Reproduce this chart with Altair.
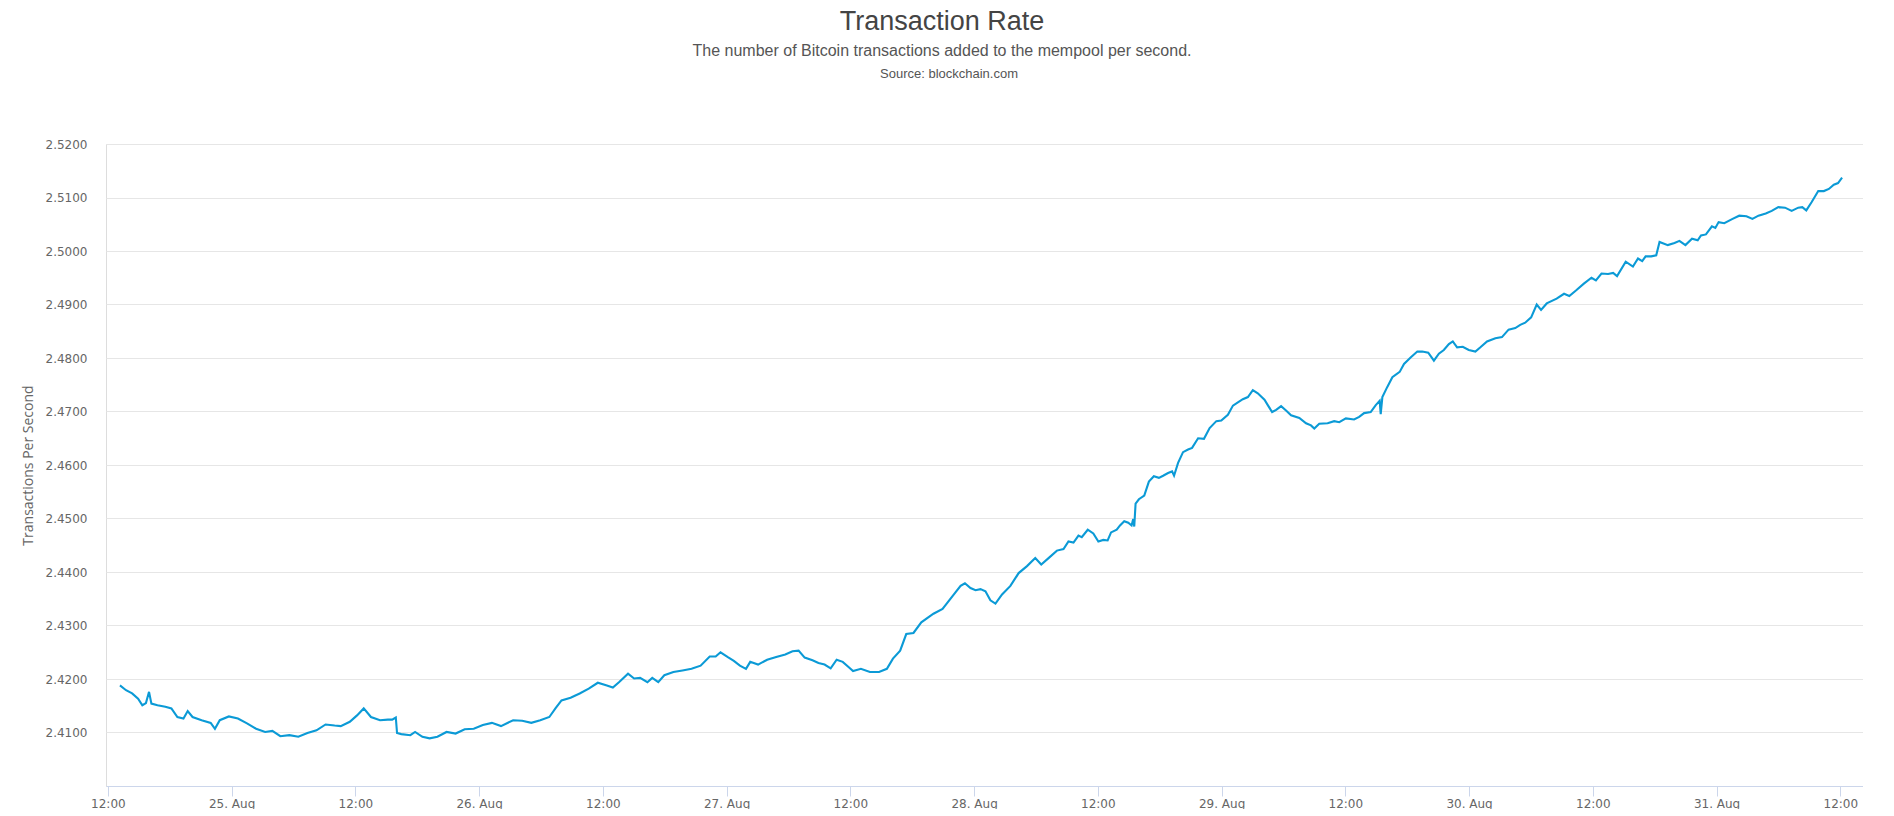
import altair as alt
import pandas as pd
from datetime import datetime, timedelta

# ---- data ----
BASE = datetime(2021, 8, 24, 12, 0)   # 24 Aug 12:00

hours = [
    1.17, 1.76, 2.35, 2.93, 3.34, 3.69, 3.99, 4.22, 4.81, 5.57, 6.16, 6.74, 7.33, 7.74, 8.21,
    9.09, 9.97, 10.38, 10.85, 11.73, 12.61, 13.49, 14.37, 15.25, 15.95, 16.72, 17.60, 18.47,
    19.35, 20.23, 21.11, 21.99, 22.58, 23.46, 24.16, 24.81, 25.51, 26.39, 27.15, 27.57, 27.92,
    28.04, 28.45, 29.33, 29.79, 30.50, 31.20, 31.96, 32.84, 33.72, 34.60, 35.48, 36.36, 37.24,
    38.12, 39.30, 40.18, 41.06, 41.93, 42.81, 43.40, 43.99, 44.87, 45.75, 46.63, 47.51, 48.39,
    48.97, 49.56, 50.44, 51.03, 51.61, 52.32, 52.79, 53.37, 53.96, 54.84, 55.72, 56.60, 57.48,
    58.36, 58.94, 59.41, 60.12, 60.70, 61.29, 61.88, 62.29, 63.05, 63.93, 64.81, 65.69, 66.39,
    66.98, 67.57, 68.33, 68.91, 69.50, 70.09, 70.67, 71.26, 71.85, 72.26, 73.02, 73.90, 74.78,
    75.54, 76.13, 76.83, 77.42, 78.12, 78.88, 80.06, 80.94,
    82.04, 82.69, 83.11, 83.65, 84.14, 84.62, 85.10, 85.58, 86.07, 86.71, 87.52, 88.32, 89.13,
    89.93, 90.51, 91.22, 92.03, 92.67, 93.15, 93.64, 94.12, 94.44, 95.02, 95.56, 96.05, 96.53,
    96.95, 97.28, 97.83, 98.15, 98.56, 98.95, 99.27, 99.43, 99.53, 99.66, 99.98, 100.50,
    100.95, 101.43, 101.92, 102.33, 102.81, 103.20, 103.39, 103.78, 104.26, 104.75, 105.14,
    105.72, 106.29, 106.84, 107.49, 107.97, 108.61, 109.10, 109.58, 110.06, 110.55, 111.03,
    111.51, 112.16, 112.48, 112.90, 113.29, 113.77, 114.25, 114.74, 115.54, 116.19, 116.67,
    116.99, 117.47, 118.28, 118.92, 119.41, 120.05, 120.85, 121.34, 121.82, 122.46, 122.95,
    123.33, 123.43, 123.59, 124.07, 124.56, 125.27, 125.69, 126.33, 126.98, 127.46, 128.04,
    128.59, 129.07, 129.55, 130.04, 130.42, 130.84, 131.39, 131.97, 132.61, 133.10, 133.74,
    134.55, 135.19, 135.83, 136.48, 136.96, 137.44, 138.02, 138.56, 138.98, 139.53,
    140.49, 141.21, 141.72, 142.42, 143.13, 143.87, 144.30, 144.84, 145.48, 145.97, 146.35,
    147.19, 147.89, 148.38, 148.79, 149.12, 149.66, 150.15, 150.47, 151.27, 151.92, 152.40,
    152.98, 153.62, 154.17, 154.49, 154.97, 155.55, 155.88, 156.20, 156.75, 157.55, 158.20,
    158.90, 159.48, 160.06, 160.77, 161.35, 161.99, 162.64, 163.28, 163.92, 164.31, 164.70,
    165.21, 165.86, 166.40, 166.89, 167.37, 167.78, 168.17,
]

rates = [
    2.4188, 2.4179, 2.4173, 2.4163, 2.4151, 2.4155, 2.4176, 2.4154, 2.4151, 2.4148, 2.4145,
    2.4129, 2.4126, 2.4140, 2.4129, 2.4123, 2.4118, 2.4107, 2.4123, 2.4130, 2.4126, 2.4117,
    2.4107, 2.4101, 2.4103, 2.4093, 2.4095, 2.4092, 2.4099, 2.4104, 2.4115, 2.4113, 2.4112,
    2.4120, 2.4132, 2.4145, 2.4129, 2.4123, 2.4124, 2.4124, 2.4128, 2.4099, 2.4097, 2.4095,
    2.4101, 2.4092, 2.4089, 2.4092, 2.4101, 2.4098, 2.4106, 2.4107, 2.4114, 2.4118, 2.4112,
    2.4123, 2.4122, 2.4118, 2.4123, 2.4129, 2.4145, 2.4160, 2.4165, 2.4173, 2.4182, 2.4193,
    2.4188, 2.4184, 2.4194, 2.4210, 2.4201, 2.4202, 2.4194, 2.4202, 2.4194, 2.4207, 2.4213,
    2.4216, 2.4219, 2.4225, 2.4242, 2.4242, 2.4250, 2.4241, 2.4234, 2.4225, 2.4219, 2.4232,
    2.4227, 2.4236, 2.4241, 2.4246, 2.4252, 2.4253, 2.4240, 2.4235, 2.4230, 2.4227, 2.4220,
    2.4236, 2.4232, 2.4222, 2.4215, 2.4219, 2.4213, 2.4213, 2.4219, 2.4238, 2.4253, 2.4284,
    2.4286, 2.4306, 2.4322, 2.4331,
    2.4358, 2.4374, 2.4379, 2.4370, 2.4366, 2.4368, 2.4364, 2.4347, 2.4341, 2.4358, 2.4374,
    2.4398, 2.4411, 2.4426, 2.4414, 2.4426, 2.4440, 2.4443, 2.4457, 2.4455, 2.4468, 2.4465,
    2.4479, 2.4472, 2.4457, 2.4460, 2.4459, 2.4474, 2.4479, 2.4487, 2.4495, 2.4492, 2.4487,
    2.4499, 2.4485, 2.4528, 2.4536, 2.4543, 2.4569, 2.4579, 2.4576, 2.4580, 2.4585, 2.4588,
    2.4580, 2.4604, 2.4624, 2.4629, 2.4632, 2.4650, 2.4649, 2.4669, 2.4682, 2.4683, 2.4694,
    2.4711, 2.4717, 2.4723, 2.4727, 2.4740,
    2.4734, 2.4722, 2.4712, 2.4699, 2.4703, 2.4710, 2.4702, 2.4693, 2.4688, 2.4678, 2.4674,
    2.4668, 2.4677, 2.4678, 2.4682, 2.4680, 2.4687, 2.4685, 2.4690, 2.4697, 2.4699, 2.4712,
    2.4720, 2.4695, 2.4727, 2.4746, 2.4764, 2.4774, 2.4789, 2.4801, 2.4812, 2.4812, 2.4810,
    2.4795, 2.4808, 2.4815, 2.4826, 2.4831, 2.4820, 2.4821, 2.4815, 2.4812, 2.4820, 2.4831,
    2.4837, 2.4839, 2.4853, 2.4856, 2.4862, 2.4866, 2.4876, 2.4900, 2.4890, 2.4902,
    2.4911, 2.4920, 2.4916, 2.4927, 2.4939, 2.4950, 2.4945, 2.4958, 2.4957, 2.4959, 2.4953,
    2.4980, 2.4971, 2.4986, 2.4981, 2.4990, 2.4990, 2.4992, 2.5017, 2.5011, 2.5015, 2.5019,
    2.5011, 2.5023, 2.5020, 2.5029, 2.5031, 2.5046, 2.5043, 2.5054, 2.5052, 2.5060, 2.5066,
    2.5065, 2.5060, 2.5066, 2.5070, 2.5075, 2.5082, 2.5081, 2.5075, 2.5081, 2.5082, 2.5076,
    2.5091, 2.5112, 2.5112, 2.5116, 2.5124, 2.5127, 2.5137,
]

y_ticks = [2.41, 2.42, 2.43, 2.44, 2.45, 2.46, 2.47, 2.48, 2.49, 2.50, 2.51, 2.52]
x_tick_hours = [12 * i for i in range(15)]          # 24 Aug 12:00 ... 31 Aug 12:00
x_domain_hours = [-0.17, 170.2]

TITLE = "Transaction Rate"
SUBTITLE = "The number of Bitcoin transactions added to the mempool per second."
SOURCE = ["Source: blockchain.com"]
Y_TITLE = "Transactions Per Second"

# ---- build table ----
times = [(BASE + timedelta(hours=h)).strftime("%Y-%m-%dT%H:%M:%S") for h in hours]
df = pd.DataFrame({"time": times, "rate": rates})


def dt(h):
    t = BASE + timedelta(hours=h)
    return alt.DateTime(year=t.year, month=t.month, date=t.day,
                        hours=t.hour, minutes=t.minute)


tick_vals = [dt(h) for h in x_tick_hours]
x_domain = [dt(h) for h in x_domain_hours]

line = alt.Chart(df).mark_line(color="#0b9ad6", strokeWidth=2.1).encode(
    x=alt.X(
        "time:T",
        scale=alt.Scale(domain=x_domain),
        axis=alt.Axis(
            values=tick_vals,
            labelExpr="hours(datum.value) == 12 ? timeFormat(datum.value, '%H:%M') : timeFormat(datum.value, '%d. %b')",
            title=None,
            grid=False,
            domainColor="#ccd6eb",
            domainWidth=1,
            tickColor="#ccd6eb",
            tickSize=10,
            labelPadding=2,
            labelFont="DejaVu Sans",
            labelFontSize=12,
            labelColor="#666666",
            labelAngle=0,
            labelOverlap=False,
            labelFlush=False,
        ),
    ),
    y=alt.Y(
        "rate:Q",
        scale=alt.Scale(domain=[2.40, 2.52], nice=False, zero=False),
        axis=alt.Axis(
            values=y_ticks,
            format=".4f",
            title=Y_TITLE,
            grid=True,
            gridColor="#e6e6e6",
            gridWidth=1,
            domain=False,
            ticks=False,
            labelPadding=19,
            labelFont="DejaVu Sans",
            labelFontSize=12,
            labelColor="#666666",
            titleFont="Open Sans",
            titleFontSize=14,
            titleFontWeight="normal",
            titleColor="#666666",
            titlePadding=10,
        ),
    ),
)

source = alt.Chart(pd.DataFrame({"t": SOURCE})).mark_text(
    font="Liberation Sans", fontSize=13, color="#555555", baseline="middle", align="center"
).encode(text="t:N", x=alt.value(843), y=alt.value(-70))

chart = alt.layer(line, source).properties(
    width=1757,
    height=642,
    padding={"left": 13, "top": 0, "right": 0, "bottom": 0},
    title=alt.TitleParams(
        text=TITLE,
        subtitle=SUBTITLE,
        anchor="middle",
        frame="bounds",
        font="Liberation Sans",
        fontSize=27,
        fontWeight="normal",
        color="#444444",
        subtitleFont="Liberation Sans",
        subtitleFontSize=16,
        subtitleColor="#555555",
        subtitlePadding=7,
        offset=8,
    ),
).configure_view(stroke=None).configure(background="white")

chart.save("out.html", embed_options={"renderer": "svg", "actions": False})
